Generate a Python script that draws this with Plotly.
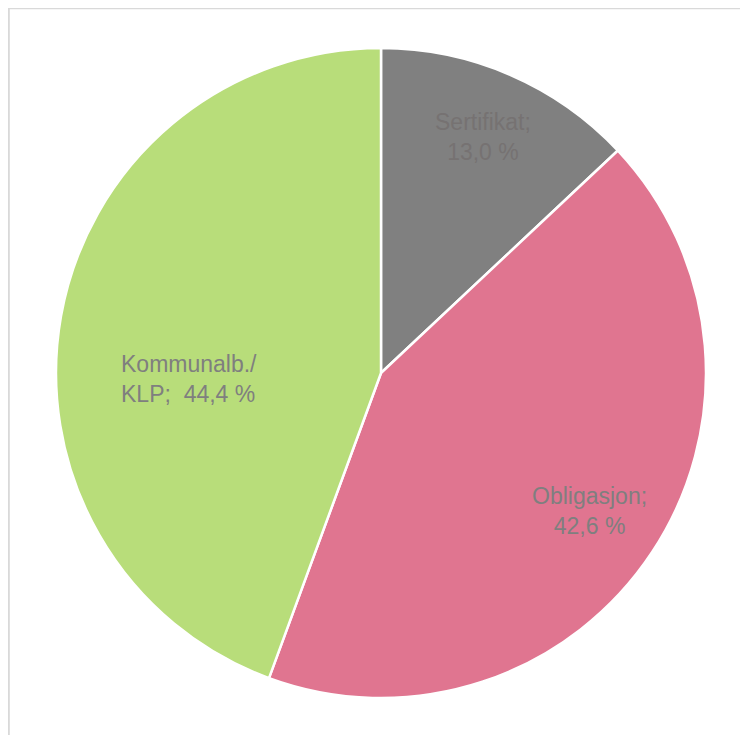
import math
import plotly.graph_objects as go

labels = ["Sertifikat", "Obligasjon", "Kommunalb./KLP"]
values = [13.0, 42.6, 44.4]
label_texts = ["Sertifikat;<br>13,0 %", "Obligasjon;<br>42,6 %", "Kommunalb./<br>KLP;\u00a0\u00a044,4 %"]
colors = ["#808080", "#E07590", "#B8DD7A"]
text_colors = ["#767272", "#7F7F7F", "#7F7F7F"]

# page body adds an 8px offset; size figure to fit the remaining window
W, H = 740, 727
cx, cy, R = 373, 365, 325

# label placement style: radial fraction and angular tweak (deg)
label_r = [0.79, 0.77, 0.59]
label_dtheta = [0, 0, -12]
label_align = ["center", "center", "left"]

fig = go.Figure(go.Pie(
    labels=labels,
    values=values,
    sort=False,
    direction="clockwise",
    rotation=0,
    marker=dict(colors=colors, line=dict(color="white", width=2.5)),
    textinfo="none",
    hoverinfo="label+percent",
    showlegend=False,
    domain=dict(x=[(cx - R) / W, (cx + R) / W], y=[1 - (cy + R) / H, 1 - (cy - R) / H]),
))

total = sum(values)
cum = 0.0
annotations = []
for i, v in enumerate(values):
    mid = (cum + v / 2) / total * 360 + label_dtheta[i]
    cum += v
    t = math.radians(mid)
    px = cx + label_r[i] * R * math.sin(t)
    py = cy - label_r[i] * R * math.cos(t)
    annotations.append(dict(
        x=px / W, y=1 - py / H, xref="paper", yref="paper",
        text=label_texts[i], showarrow=False, align=label_align[i],
        xanchor="center", yanchor="middle",
        font=dict(family="Liberation Sans, Arial, sans-serif", size=23, color=text_colors[i]),
    ))

fig.update_layout(
    width=W, height=H,
    margin=dict(l=0, r=0, t=0, b=0),
    paper_bgcolor="white",
    plot_bgcolor="white",
    annotations=annotations,
    shapes=[dict(type="rect", xref="paper", yref="paper",
                 x0=0.8 / W, x1=1.05, y0=-0.05, y1=1 - 0.2 / H,
                 line=dict(color="#D9D9D9", width=2), fillcolor="rgba(0,0,0,0)",
                 layer="below")],
)

fig.write_html("out.html")
